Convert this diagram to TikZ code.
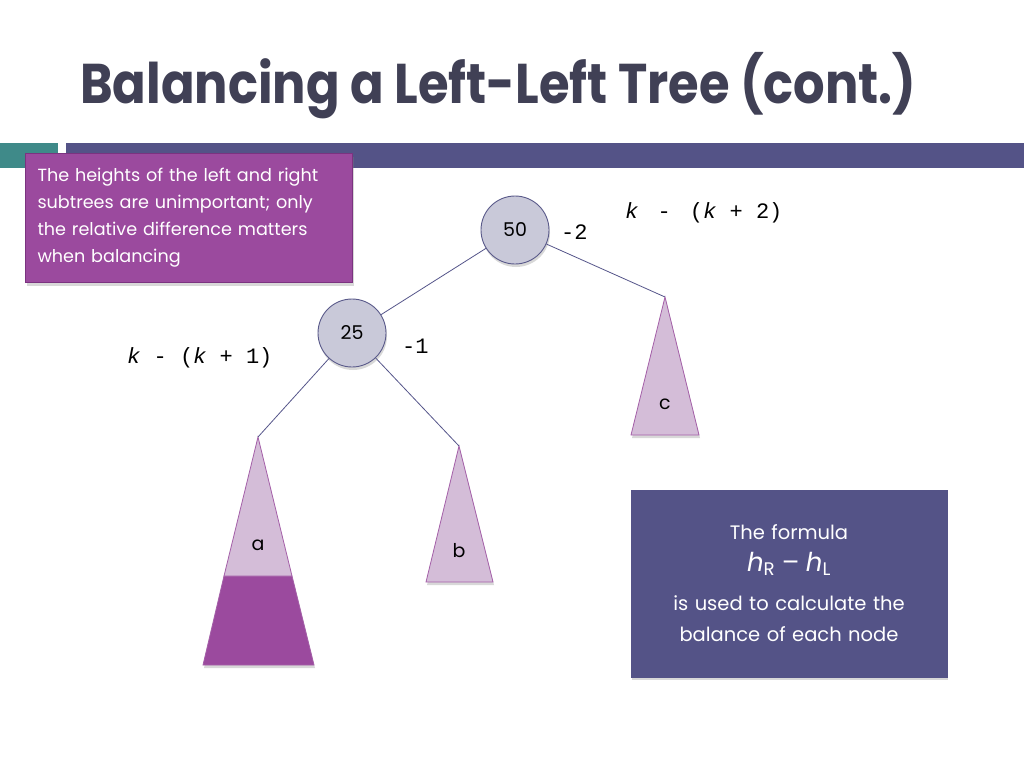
\documentclass[tikz,border=0pt]{standalone}
\usepackage{fontspec}
\setmainfont{Poppins}
\setmonofont{Liberation Mono}
\usetikzlibrary{shadows}
\definecolor{titlecol}{HTML}{404055}
\definecolor{tealbar}{HTML}{3F8A89}
\definecolor{navybar}{HTML}{545387}
\definecolor{notefill}{HTML}{9B4A9E}
\definecolor{notedraw}{HTML}{7B3380}
\definecolor{nodefill}{HTML}{C9C9D9}
\definecolor{nodedraw}{HTML}{5A5A8A}
\definecolor{trifill}{HTML}{D4BDD8}
\definecolor{tridraw}{HTML}{A45FA8}
\definecolor{treeline}{HTML}{55558A}

\begin{document}
\begin{tikzpicture}[x=1pt,y=-1pt,
  every node/.style={inner sep=0pt},
  softshadow/.style={drop shadow={opacity=0.3,shadow xshift=1pt,shadow yshift=-3pt}},
  treenode/.style={circle,draw=nodedraw,fill=nodefill,line width=0.9pt,minimum size=68pt,font=\fontsize{19}{22}\selectfont,softshadow},
  subtree/.style={draw=tridraw,fill=trifill,line width=0.8pt},
  treeedge/.style={draw=treeline,line width=0.8pt},
  balance/.style={font=\ttfamily\fontsize{22}{24}\selectfont},
  trilabel/.style={font=\fontsize{19}{22}\selectfont}]
  \useasboundingbox[fill=white] (0,0) rectangle (1024,768);
  % title and header bars
  \node[anchor=base west,text=titlecol,font=\bfseries\fontsize{56}{60}\selectfont] (title) at (80,103) {\scalebox{0.885}[1]{Balancing a Left-Left Tree (cont.)}};
  \fill[tealbar] (0,143) rectangle (58,168);
  \fill[navybar] (66,143) rectangle (1024,168);
  % note box
  \node[anchor=north west,draw=notedraw,fill=notefill,line width=1pt,minimum width=327pt,minimum height=129pt,text width=303pt,align=left,text=white,font=\fontsize{17.6}{27}\selectfont,softshadow] (note) at (25,153)
    {The heights of the left and right\\subtrees are unimportant; only\\the relative difference matters\\when balancing};
  % tree
  \node[treenode] (n50) at (515,230) {50};
  \node[treenode] (n25) at (352,333) {25};
  \node[balance,anchor=base west] (b50) at (561,239) {-2};
  \node[balance,anchor=base west] (b25) at (402,353) {-1};
  \node[balance,anchor=base west] (h50) at (625,218) {\textit{k}\hspace{6pt} -\hspace{6pt} (\textit{k} + 2)};
  \node[balance,anchor=base west] (h25) at (127,363) {\textit{k} - (\textit{k} + 1)};
  \coordinate (aapex) at (258,437);
  \coordinate (bapex) at (459,446);
  \coordinate (capex) at (665,297);
  \draw[subtree,softshadow] (capex) -- (699,435) -- (631,435) -- cycle;
  \draw[subtree,softshadow] (bapex) -- (493,582) -- (426,582) -- cycle;
  \draw[subtree,fill=notefill,softshadow] (224,576) -- (292,576) -- (314,665) -- (203,665) -- cycle;
  \draw[subtree] (aapex) -- (292,576) -- (224,576) -- cycle;
  \node[trilabel] (la) at (258,545) {a};
  \node[trilabel] (lb) at (459,551) {b};
  \node[trilabel] (lc) at (665,404) {c};
  \draw[treeedge] (n50) -- (n25);
  \draw[treeedge] (n50) -- (capex);
  \draw[treeedge] (n25) -- (aapex);
  \draw[treeedge] (n25) -- (bapex);
  % formula box
  \node[fill=navybar,draw=navybar,minimum width=316pt,minimum height=187pt,text width=300pt,align=center,text=white,font=\fontsize{19.5}{31}\selectfont,softshadow] (formula) at (789,583.5)
    {The formula\\[1pt]{\fontsize{26}{31}\selectfont\textit{h}\textsubscript{R} -- \textit{h}\textsubscript{L}}\\[8pt]is used to calculate the\\balance of each node};
\end{tikzpicture}
\end{document}
